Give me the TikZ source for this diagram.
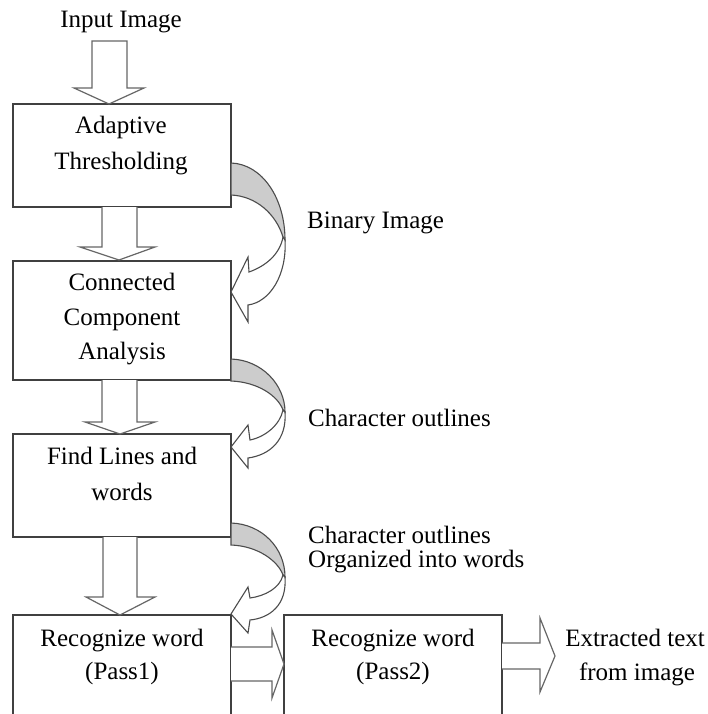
\documentclass[tikz,border=0pt]{standalone}
\usepackage{fontspec}
\setmainfont{Liberation Serif}
\begin{document}
\begin{tikzpicture}[x=1pt,y=-1pt]
\tikzset{
  box/.style={draw=black!75, line width=1.3pt, fill=white, rectangle, inner sep=0pt, outer sep=0pt, anchor=north west},
  blk/.style={draw=black!60, line width=1.2pt, fill=white, line join=miter},
  band/.style={draw=black!70, line width=1.1pt, fill=black!20},
  front/.style={draw=black!70, line width=1.1pt, fill=white, line join=miter},
  lbl/.style={font=\fontsize{25}{30}\selectfont, inner sep=0pt, anchor=base},
  lblw/.style={lbl, anchor=base west}
}
\useasboundingbox (0,0) rectangle (708,714);
\clip (0,0) rectangle (708,714);
\fill[white] (0,0) rectangle (708,714);

% boxes
\node[box, minimum width=218pt, minimum height=103pt] (b1) at (13,104) {};
\node[box, minimum width=218pt, minimum height=119pt] (b2) at (13,261) {};
\node[box, minimum width=218pt, minimum height=103pt] (b3) at (13,434) {};
\node[box, minimum width=218pt, minimum height=130pt] (b4) at (13,615) {};
\node[box, minimum width=218pt, minimum height=130pt] (b5) at (284,615) {};

% vertical block arrows
\draw[blk] (92,41) -- (127,41) -- (127,88) -- (144,88) -- (109,104) -- (74,88) -- (92,88) -- cycle;
\draw[blk] (102,207) -- (102,247) -- (80,247) -- (119,260) -- (155,247) -- (137,247) -- (137,207);
\draw[blk] (102,380) -- (102,422) -- (85,422) -- (120,434) -- (155,422) -- (137,422) -- (137,380);
\draw[blk] (103,537) -- (103,597) -- (86,597) -- (120,615) -- (155,597) -- (137,597) -- (137,537);

% horizontal block arrows
\draw[blk] (231,647) -- (272,647) -- (272,630) -- (284,664) -- (272,698) -- (272,681) -- (231,681);
\draw[blk] (502,643) -- (540,643) -- (540,618) -- (555,656) -- (540,692) -- (540,669) -- (502,669);

% curved arrow 1
\draw[band] (231,163) .. controls (262,164) and (285,198) .. (285,240)
  -- (283,237) .. controls (276,214) and (256,196) .. (231,195) -- cycle;
\draw[front] (285,240) .. controls (287,275) and (270,302) .. (248,305)
  -- (248,322) -- (231,292) -- (248,257) -- (249,272)
  .. controls (266,266) and (280,254) .. (283,237) -- cycle;

% curved arrow 2
\draw[band] (231,359) .. controls (262,360) and (285,385) .. (285,412)
  -- (283,410) .. controls (278,396) and (258,382) .. (231,381) -- cycle;
\draw[front] (285,412) .. controls (287,440) and (270,455) .. (248,458)
  -- (248,468) -- (231,447) -- (248,425) -- (250,440)
  .. controls (265,437) and (280,425) .. (283,410) -- cycle;

% curved arrow 3
\draw[band] (231,523) .. controls (262,524) and (285,548) .. (285,577)
  -- (283,575) .. controls (278,561) and (258,546) .. (231,545) -- cycle;
\draw[front] (285,577) .. controls (287,605) and (270,618) .. (250,620)
  -- (248,633) -- (231,614) -- (248,587) -- (250,598)
  .. controls (265,596) and (280,588) .. (283,575) -- cycle;

% texts
\node[lbl] (t0) at (121,28) {Input Image};
\node[lbl] (t1a) at (121,134) {Adaptive};
\node[lbl] (t1b) at (121,170) {Thresholding};
\node[lbl] (t2a) at (122,290) {Connected};
\node[lbl] (t2b) at (122,325) {Component};
\node[lbl] (t2c) at (122,359) {Analysis};
\node[lbl] (t3a) at (122,464) {Find Lines and};
\node[lbl] (t3b) at (122,500) {words};
\node[lbl] (t4a) at (122,646) {Recognize word};
\node[lbl] (t4b) at (122,679) {(Pass1)};
\node[lbl] (t5a) at (393,646) {Recognize word};
\node[lbl] (t5b) at (393,679) {(Pass2)};
\node[lbl] (t6a) at (635,646) {Extracted text};
\node[lbl] (t6b) at (637,680) {from image};
\node[lblw] (c1) at (307,228) {Binary Image};
\node[lblw] (c2) at (308,426) {Character outlines};
\node[lblw] (c3a) at (308,543) {Character outlines};
\node[lblw] (c3b) at (308,567) {Organized into words};
\end{tikzpicture}
\end{document}
